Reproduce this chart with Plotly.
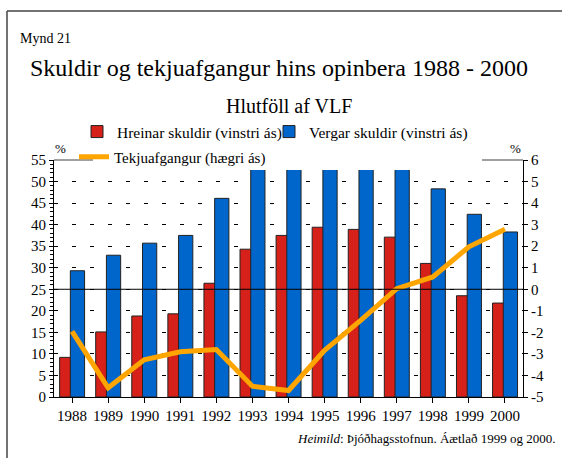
import plotly.graph_objects as go

years = ["1988", "1989", "1990", "1991", "1992", "1993", "1994",
         "1995", "1996", "1997", "1998", "1999", "2000"]
hreinar = [9.2, 15.1, 18.8, 19.3, 26.4, 34.3, 37.5, 39.4, 38.9, 37.1, 31.0, 23.5, 21.8]
vergar = [29.3, 32.9, 35.7, 37.5, 46.1, 53.5, 55.0, 57.0, 55.5, 53.5, 48.3, 42.4, 38.3]
tekjuafgangur = [-1.95, -4.57, -3.27, -2.9, -2.8, -4.5, -4.7, -2.83, -1.44, 0.03, 0.57, 1.97, 2.79]

left_ticks = list(range(0, 56, 5))
right_ticks = list(range(-5, 7, 1))

FONT = "Liberation Serif, Times New Roman, serif"
RED = "#D52119"
BLUE = "#0066CC"
ORANGE = "#FFA500"

W, H = 562, 458
L, R, T, B = 54, 39, 160, 61
PW, PH = W - L - R, H - T - B


def px(x):
    return (x - L) / PW


def py(y):
    return (H - B - y) / PH


fig = go.Figure()
fig.add_trace(go.Bar(
    x=years, y=hreinar, name="Hreinar skuldir (vinstri ás)",
    marker=dict(color=RED, line=dict(color="#222", width=1)),
    offset=-0.344, width=0.39, legend="legend",
))
fig.add_trace(go.Bar(
    x=years, y=vergar, name="Vergar skuldir (vinstri ás)",
    marker=dict(color=BLUE, line=dict(color="#222", width=1)),
    offset=-0.047, width=0.395, legend="legend3",
))
fig.add_trace(go.Scatter(
    x=years, y=tekjuafgangur, name="Tekjuafgangur (hægri ás)", yaxis="y2",
    mode="lines", line=dict(color=ORANGE, width=5), legend="legend2",
))

axis_font = dict(family=FONT, size=15, color="black")
leg_font = dict(family=FONT, size=15.5, color="black")

fig.update_layout(
    width=W, height=H,
    margin=dict(l=L, r=R, t=T, b=B, pad=0, autoexpand=False),
    paper_bgcolor="white", plot_bgcolor="white",
    font=dict(family=FONT, color="black"),
    barmode="overlay",
    hovermode=False,
    xaxis=dict(
        type="category", categoryorder="array", categoryarray=years,
        showline=True, linecolor="black", linewidth=1,
        ticks="outside", ticklen=5, tickcolor="black",
        tickfont=axis_font, showgrid=False, zeroline=False,
    ),
    yaxis=dict(
        range=[0, 55], tickvals=left_ticks, ticktext=[str(v) for v in left_ticks],
        showline=True, linecolor="black", linewidth=1,
        ticks="outside", ticklen=4, tickcolor="black",
        minor=dict(dtick=1, ticks="outside", ticklen=3, tickcolor="black", showgrid=False),
        showgrid=True, gridcolor="black", gridwidth=1, griddash="4px,14px",
        zeroline=False, tickfont=axis_font,
    ),
    yaxis2=dict(
        range=[-5, 6], tickvals=right_ticks, ticktext=[str(v) for v in right_ticks],
        overlaying="y", side="right",
        showline=True, linecolor="black", linewidth=1,
        ticks="outside", ticklen=4, tickcolor="black",
        showgrid=False, zeroline=False, tickfont=axis_font,
    ),
    yaxis3=dict(
        range=[0, 55], tickvals=left_ticks, overlaying="y", side="left",
        ticks="inside", ticklen=4, tickcolor="black", showticklabels=False,
        showgrid=False, zeroline=False, showline=False,
    ),
    yaxis4=dict(
        range=[-5, 6], tickvals=right_ticks, overlaying="y", side="right",
        ticks="inside", ticklen=4, tickcolor="black", showticklabels=False,
        showgrid=False, zeroline=False, showline=False,
    ),
    legend=dict(
        orientation="h", x=px(77), y=py(132), xanchor="left", yanchor="middle",
        font=leg_font, bgcolor="rgba(0,0,0,0)", itemwidth=30,
    ),
    legend3=dict(
        orientation="h", x=px(269), y=py(132), xanchor="left", yanchor="middle",
        font=leg_font, bgcolor="rgba(0,0,0,0)", itemwidth=30,
    ),
    legend2=dict(
        orientation="h", x=px(74), y=py(157), xanchor="left", yanchor="middle",
        font=dict(family=FONT, size=15, color="black"),
        bgcolor="rgba(0,0,0,0)", itemwidth=30,
    ),
    showlegend=True,
)

shapes = [
    dict(type="line", xref="paper", yref="paper", x0=0, x1=1, y0=1, y1=1,
         line=dict(color="#808080", width=1.5), layer="below"),
    dict(type="line", xref="paper", yref="y2", x0=0, x1=1, y0=0, y1=0,
         line=dict(color="black", width=1), layer="above"),
    dict(type="rect", xref="paper", yref="paper", x0=px(93), x1=px(482),
         y0=py(170), y1=py(120), fillcolor="white", line=dict(width=0), layer="above"),
    dict(type="line", xref="paper", yref="paper", x0=px(7), x1=px(575), y0=py(11), y1=py(11),
         line=dict(color="#444", width=1.5), layer="above"),
    dict(type="line", xref="paper", yref="paper", x0=px(7), x1=px(7), y0=py(11), y1=py(470),
         line=dict(color="#444", width=1.5), layer="above"),
]
fig.update_layout(shapes=shapes)

annotations = [
    dict(text="Mynd 21", x=px(18), y=py(38), xanchor="left", yanchor="middle",
         font=dict(family=FONT, size=14)),
    dict(text="Skuldir og tekjuafgangur hins opinbera 1988 - 2000", x=px(279), y=py(68),
         xanchor="center", yanchor="middle", font=dict(family=FONT, size=24)),
    dict(text="Hlutföll af VLF", x=px(289), y=py(106), xanchor="center", yanchor="middle",
         font=dict(family=FONT, size=20)),
    dict(text="%", x=px(60), y=py(148), xanchor="center", yanchor="middle",
         font=dict(family=FONT, size=13)),
    dict(text="%", x=px(515), y=py(148), xanchor="center", yanchor="middle",
         font=dict(family=FONT, size=13)),
    dict(text="<i>Heimild</i>: Þjóðhagsstofnun. Áætlað 1999 og 2000.", x=px(557), y=py(438),
         xanchor="right", yanchor="middle", font=dict(family=FONT, size=13)),
]
for a in annotations:
    a.update(xref="paper", yref="paper", showarrow=False)
fig.update_layout(annotations=annotations)

fig.write_html(
    "out.html",
    config={"displayModeBar": False, "staticPlot": True},
    post_script="document.body.style.margin='0';document.body.style.padding='0';",
)
